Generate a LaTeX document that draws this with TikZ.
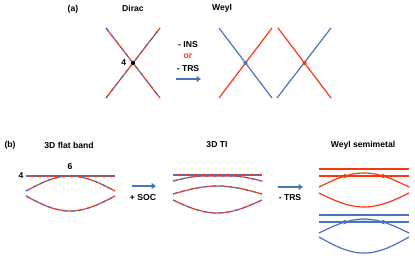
\documentclass[tikz,border=0pt]{standalone}
\usepackage{fontspec}
\setmainfont{Liberation Sans}
\usetikzlibrary{arrows.meta,intersections}
\definecolor{bandred}{RGB}{250,55,20}
\definecolor{bandblue}{RGB}{75,115,195}

\begin{document}
\begin{tikzpicture}[x=1pt, y=-1pt, font=\fontsize{8.6}{10}\selectfont\bfseries,
  >={Triangle[length=4.5pt,width=6pt]},
  red band/.style={draw=bandred, line width=1.2pt},
  blue band/.style={draw=bandblue, line width=1.2pt},
  mix band/.style={red band, postaction={draw=bandblue, line width=1.2pt, dash pattern=on 4pt off 4pt}},
  step arrow/.style={->, draw=bandblue, line width=1.8pt},
  crossdot/.style={circle, inner sep=0pt, minimum size=4.2pt}]
  \useasboundingbox (0,0) rectangle (415,258);
  % (a) Dirac point
  \node (lbla) at (73,9) {(a)};
  \node (dirac) at (133,8) {Dirac};
  \draw[mix band] (106,28) -- (160,98);
  \draw[mix band] (106,98) -- (160,28);
  \node[crossdot, fill=black] (dp) at (133,63) {};
  \node[left=1pt] (four) at (dp.west) {4};
  \node (ins) at (188,45) {- INS};
  \node[text=bandred] (or) at (188,56) {or};
  \node (trs) at (188,69) {- TRS};
  \coordinate (a1) at (176,79);
  \coordinate (a2) at (201,79);
  \draw[step arrow] (a1) -- (a2);
  % (a) Weyl pair
  \node (weyl) at (222,8) {Weyl};
  \draw[blue band] (219,28) -- (272,98);
  \draw[red band] (219,98) -- (272,28);
  \draw[red band] (278,28) -- (331,98);
  \draw[blue band] (277,98) -- (331,28);
  \node[crossdot, fill=bandblue] (wp1) at (245.5,63) {};
  \node[crossdot, fill=bandred] (wp2) at (304.5,63) {};
  % (b) 3D flat band
  \node (lblb) at (10,145) {(b)};
  \node (flat) at (69,145) {3D flat band};
  \draw[mix band] (26,191) sin (70,176) cos (115,191);
  \draw[mix band] (26,196) sin (70,211) cos (115,196);
  \draw[mix band] (26,176) -- (115,176);
  \node (four b) at (21,176) {4};
  \node (six) at (70,167) {6};
  \coordinate (b1) at (132,186);
  \coordinate (b2) at (156,186);
  \draw[step arrow] (b1) -- (b2);
  \node (soc) at (143,198) {+ SOC};
  % (b) 3D TI
  \node (ti) at (217,145) {3D TI};
  \draw[mix band] (173,181) sin (205,176) -- (230,176) cos (262,181);
  \draw[mix band] (173,175) -- (262,175);
  \draw[mix band] (173,194) sin (217,186) cos (262,194);
  \draw[mix band] (173,200) sin (217,213) cos (262,200);
  \coordinate (c1) at (278,187);
  \coordinate (c2) at (303,187);
  \draw[step arrow] (c1) -- (c2);
  \node (trs b) at (290,198) {- TRS};
  % (b) Weyl semimetal
  \node (wsm) at (363,145) {Weyl semimetal};
  \draw[red band] (319,169) -- (409,169);
  \draw[red band, name path=rflat] (319,176) -- (409,176);
  \draw[red band, name path=rhump] (319,187) sin (364,173) cos (409,187);
  \draw[red band] (319,193) sin (364,207) cos (409,193);
  \fill[bandred, name intersections={of=rflat and rhump}]
    (intersection-1) circle (2) (intersection-2) circle (2);
  \begin{scope}
    \clip (319,210) rectangle (409,222);
    \fill[bandblue!25] (319,233) sin (364,219) cos (409,233) -- cycle;
  \end{scope}
  \draw[blue band] (319,215) -- (409,215);
  \draw[blue band, name path=bflat] (319,222) -- (409,222);
  \draw[blue band, name path=bhump] (319,233) sin (364,219) cos (409,233);
  \draw[blue band] (319,237) sin (364,253) cos (409,237);
  \fill[bandblue, name intersections={of=bflat and bhump}]
    (intersection-1) circle (2) (intersection-2) circle (2);
\end{tikzpicture}
\end{document}
